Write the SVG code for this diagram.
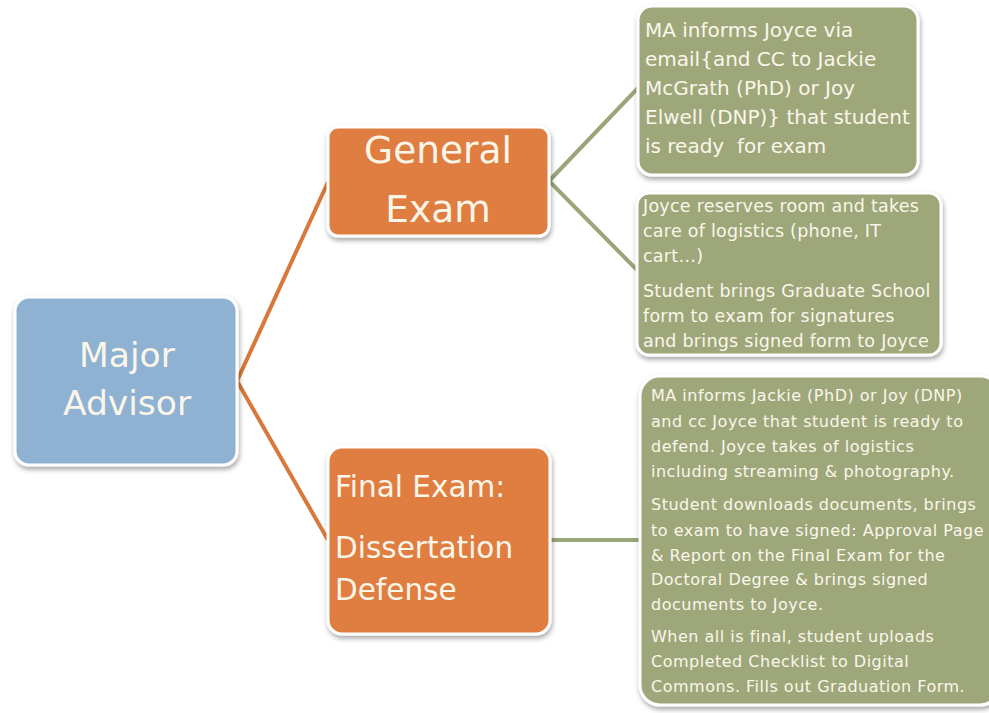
<svg xmlns="http://www.w3.org/2000/svg" width="989" height="713" viewBox="0 0 989 713">
<defs>
<filter id="sh" x="-10%" y="-10%" width="125%" height="130%">
<feDropShadow dx="1" dy="3" stdDeviation="2.5" flood-color="#000" flood-opacity="0.35"/>
</filter>
<style>
.box{stroke:#fff;stroke-width:3;filter:url(#sh)}
.blue{fill:#8fb2d2}
.orange{fill:#e07d41}
.green{fill:#9ea77a}
text{font-family:"DejaVu Sans","Liberation Sans",sans-serif;fill:#fbf6ea}
.big{font-size:37.5px;text-anchor:middle}
.mid{font-size:29.5px}
.t1{font-size:20px}
.t2{font-size:17.5px;letter-spacing:0.25px}
.t3{font-size:16px;letter-spacing:0.5px}
.ol{stroke:#d9783c;stroke-width:4;fill:none}
.gl{stroke:#9aa679;stroke-width:4;fill:none}
</style>
</defs>
<rect width="989" height="713" fill="#fff"/>
<g id="connectors">
<polyline class="ol" points="328,182 237,381 328,540"/>
<polyline class="gl" points="638,88 549,181 637,270"/>
<line class="gl" x1="550" y1="540" x2="641" y2="540"/>
</g>
<g id="major-advisor">
<rect class="box blue" x="15" y="297" width="222" height="168" rx="14"/>
<text class="big" x="127" y="367" style="font-size:34.5px">Major</text>
<text class="big" x="127" y="415" style="font-size:34.5px">Advisor</text>
</g>
<g id="general-exam">
<rect class="box orange" x="328" y="127" width="221" height="109" rx="10"/>
<text class="big" x="438" y="163">General</text>
<text class="big" x="438" y="222">Exam</text>
</g>
<g id="final-exam">
<rect class="box orange" x="328" y="447" width="222" height="187" rx="14"/>
<text class="mid" x="335" y="497">Final Exam:</text>
<text class="mid" x="335" y="558">Dissertation</text>
<text class="mid" x="335" y="600">Defense</text>
</g>
<g id="ge-notify">
<rect class="box green" x="638" y="6" width="280" height="169" rx="14"/>
<text class="t1" x="645" y="37">MA informs Joyce via</text>
<text class="t1" x="645" y="66">email{and CC to Jackie</text>
<text class="t1" x="645" y="95">McGrath (PhD) or Joy</text>
<text class="t1" x="645" y="124">Elwell (DNP)} that student</text>
<text class="t1" x="645" y="153" xml:space="preserve">is ready  for exam</text>
</g>
<g id="ge-logistics">
<rect class="box green" x="637" y="193" width="304" height="162" rx="12"/>
<text class="t2" x="643" y="212">Joyce reserves room and takes</text>
<text class="t2" x="643" y="237">care of logistics (phone, IT</text>
<text class="t2" x="643" y="262">cart…)</text>
<text class="t2" x="643" y="297">Student brings Graduate School</text>
<text class="t2" x="643" y="322">form to exam for signatures</text>
<text class="t2" x="643" y="347">and brings signed form to Joyce</text>
</g>
<g id="fe-steps">
<rect class="box green" x="640" y="376" width="360" height="329" rx="20"/>
<text class="t3" x="651" y="401">MA informs Jackie (PhD) or Joy (DNP)</text>
<text class="t3" x="651" y="427">and cc Joyce that student is ready to</text>
<text class="t3" x="651" y="452">defend. Joyce takes of logistics</text>
<text class="t3" x="651" y="477">including streaming &amp; photography.</text>
<text class="t3" x="651" y="510">Student downloads documents, brings</text>
<text class="t3" x="651" y="536">to exam to have signed: Approval Page</text>
<text class="t3" x="651" y="561">&amp; Report on the Final Exam for the</text>
<text class="t3" x="651" y="585">Doctoral Degree &amp; brings signed</text>
<text class="t3" x="651" y="610">documents to Joyce.</text>
<text class="t3" x="651" y="642">When all is final, student uploads</text>
<text class="t3" x="651" y="667">Completed Checklist to Digital</text>
<text class="t3" x="651" y="692">Commons. Fills out Graduation Form.</text>
</g>
</svg>
